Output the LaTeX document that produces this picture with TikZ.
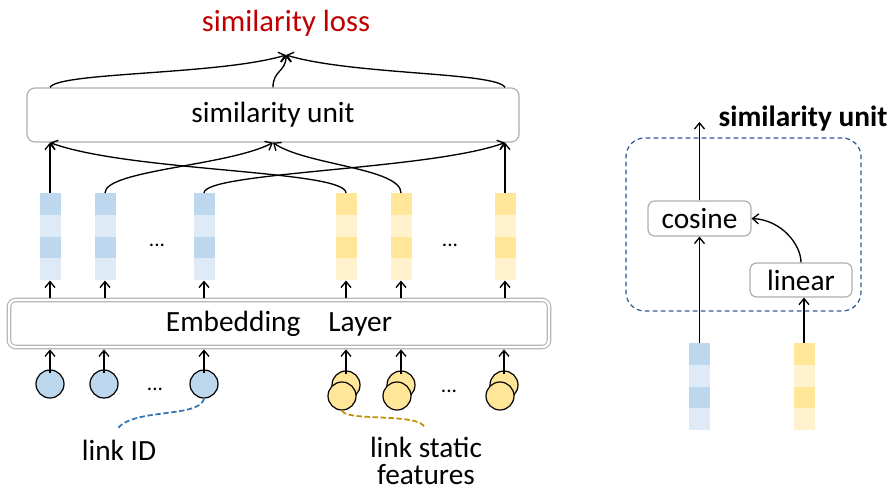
\documentclass[tikz,border=0pt]{standalone}
\usepackage{fontspec}
\setmainfont{Carlito}
\usetikzlibrary{arrows.meta}
\definecolor{bdark}{HTML}{BDD7EE}
\definecolor{blight}{HTML}{DEEBF7}
\definecolor{ydark}{HTML}{FFE699}
\definecolor{ylight}{HTML}{FFF2CC}
\definecolor{lossred}{HTML}{C00000}
\definecolor{boxgray}{HTML}{AFAFAF}
\definecolor{dashblue}{HTML}{2F5597}
\definecolor{idblue}{HTML}{2E75B6}
\definecolor{goldline}{HTML}{BF9000}
% name, x, top y, dark colour, light colour
\newcommand\embvec[5]{%
  \fill[#4] (#2-10.5,#3) rectangle (#2+10.5,#3+22);
  \fill[#5] (#2-10.5,#3+22) rectangle (#2+10.5,#3+44);
  \fill[#4] (#2-10.5,#3+44) rectangle (#2+10.5,#3+65);
  \fill[#5] (#2-10.5,#3+65) rectangle (#2+10.5,#3+87);
  \node[vecnode,anchor=north] (#1) at (#2,#3) {};
}
\begin{document}
\begin{tikzpicture}[x=0.75pt,y=-0.75pt,
  font=\fontsize{22}{24}\selectfont,
  arr/.style={-{Straight Barb[length=4.5pt,width=7.5pt]},line width=1pt},
  lbl/.style={inner sep=0pt},
  rbox/.style={draw=boxgray,line width=0.9pt,rounded corners=5pt,fill=white,inner sep=0pt},
  vecnode/.style={inner sep=0pt,minimum width=15.75pt,minimum height=65.25pt},
  bcirc/.style={circle,draw,line width=0.9pt,fill=bdark,minimum size=21pt,inner sep=0pt},
  ycirc/.style={circle,draw,line width=0.9pt,fill=ydark,minimum size=21pt,inner sep=0pt},
  dotsn/.style={inner sep=0pt,font=\fontsize{16}{18}\selectfont},
  dashbox/.style={draw=dashblue,dash pattern=on 3.5pt off 2.5pt,line width=0.9pt,rounded corners=14pt,inner sep=0pt,minimum width=176.25pt,minimum height=129.75pt},
  iddash/.style={dash pattern=on 4pt off 2pt,line width=1.3pt}
]
\useasboundingbox (0,0) rectangle (896,493);

% ---------- left diagram ----------
\node[lbl,text=lossred,font=\fontsize{23}{25}\selectfont] (loss) at (286,23) {similarity loss};
\coordinate (tip) at (286,55);
\node[rbox,minimum width=369pt,minimum height=40.5pt,rounded corners=6pt] (su) at (273,115) {similarity unit};

\embvec{v1}{50}{193}{bdark}{blight}
\embvec{v2}{105}{193}{bdark}{blight}
\embvec{v3}{204}{193}{bdark}{blight}
\embvec{v4}{346}{193}{ydark}{ylight}
\embvec{v5}{401}{193}{ydark}{ylight}
\embvec{v6}{505}{193}{ydark}{ylight}
\node[dotsn] (d1) at (157,245) {...};
\node[dotsn] (d2) at (450,245) {...};

\node[draw=boxgray,double=white,double distance=1.8pt,line width=0.8pt,rounded corners=5pt,
      minimum width=405pt,minimum height=35.25pt,inner sep=0pt] (emb) at (279,323.5) {Embedding\hspace{21pt}Layer};

\node[bcirc] (c1) at (50,384) {};
\node[bcirc] (c2) at (104,384) {};
\node[bcirc] (c3) at (204,384) {};
\node[dotsn] (d3) at (155,389) {...};
\node[ycirc] (yb1) at (346,385) {};
\node[ycirc] (yf1) at (342,396) {};
\node[ycirc] (yb2) at (401,385) {};
\node[ycirc] (yf2) at (397,396) {};
\node[ycirc] (yb3) at (504,385) {};
\node[ycirc] (yf3) at (500,396) {};
\node[dotsn] (d4) at (449,391) {...};

% circles -> embedding layer
\foreach \n in {c1,c2,c3,yb1,yb2,yb3}
  \draw[arr,shorten >=1.4pt] ([yshift=8pt]\n.center) -- (\n |- emb.south);
% embedding layer -> vectors
\foreach \n in {v1,v2,v3,v4,v5,v6}
  \draw[arr,shorten <=1.4pt] (\n |- emb.north) -- (\n.south);

% vectors -> similarity unit
\draw[arr] (v1.north) -- (v1 |- su.south);
\draw[arr] (v6.north) -- (v6 |- su.south);
\draw[arr] (v2.north) .. controls (105,170) and (228,166) .. (su.south);
\draw[arr] (v5.north) .. controls (401,168) and (305,165) .. (su.south);
\draw[arr] (v3.north) .. controls (204,172) and (430,170) .. (v6 |- su.south);
\draw[arr] (v4.north) .. controls (346,170) and (130,172) .. (v1 |- su.south);

% similarity unit -> loss
\draw[arr] (v1 |- su.north) .. controls (58,72) and (220,75) .. (tip);
\draw[arr] (v6 |- su.north) .. controls (497,72) and (352,75) .. (tip);
\draw[arr] (su.north) .. controls (273,70) and (286,72) .. (tip);

% annotations
\coordinate (idend) at (118,428);
\coordinate (sfend) at (425,428);
\draw[idblue,iddash] (c3.south) .. controls (200,418) and (135,408) .. (idend);
\draw[goldline,iddash] (yf1.south) .. controls (346,422) and (420,412) .. (sfend);
\node[lbl] (lid) at (119,450) {link ID};
\node[lbl,align=center,font=\fontsize{22}{20.5}\selectfont] (lsf) at (426,461) {link static\\features};

% ---------- right diagram ----------
\node[dashbox] (grp) at (743.5,224.5) {};
\node[lbl,font=\bfseries\fontsize{22}{24}\selectfont] (sutitle) at (803,119) {similarity unit};
\node[rbox,minimum width=77.25pt,minimum height=26.25pt] (cos) at (699.5,218.5) {cosine};
\node[rbox,minimum width=76.5pt,minimum height=25.5pt] (lin) at (801,280) {linear};
\coordinate (out) at (699.5,122);
\embvec{rb}{699.5}{343}{bdark}{blight}
\embvec{ry}{804}{343}{ydark}{ylight}
\draw[arr] (cos.north) -- (out);
\draw[arr] (rb.north) -- (rb.north |- cos.south);
\draw[arr] (ry.north) -- (ry.north |- lin.south);
\draw[arr] (lin.north) .. controls (801,245) and (782,220) .. (cos.east);
\end{tikzpicture}
\end{document}
